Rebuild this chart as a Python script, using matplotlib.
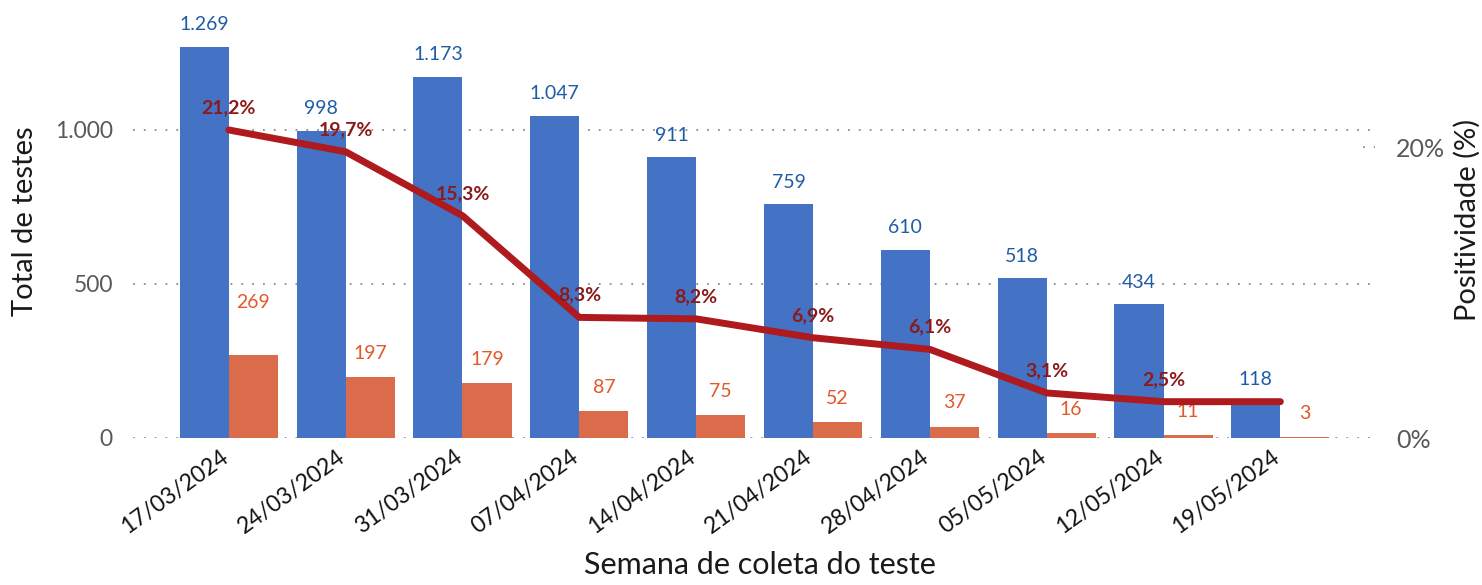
import numpy as np
import matplotlib
matplotlib.use("Agg")
import matplotlib.pyplot as plt
import matplotlib.transforms as mtransforms
from matplotlib.ticker import FuncFormatter

plt.rcParams['font.family'] = ['Lato', 'DejaVu Sans']

# Data
semanas = ['17/03/2024', '24/03/2024', '31/03/2024', '07/04/2024', '14/04/2024',
           '21/04/2024', '28/04/2024', '05/05/2024', '12/05/2024', '19/05/2024']
total_testes = [1269, 998, 1173, 1047, 911, 759, 610, 518, 434, 118]
positivos = [269, 197, 179, 87, 75, 52, 37, 16, 11, 3]
positividade = [0.212, 0.197, 0.153, 0.083, 0.082, 0.069, 0.061, 0.031, 0.025, 0.025]
mostrar_rotulo = [True] * 9 + [False]

azul = '#4472C4'
laranja = '#DA6C4B'
vermelho = '#AE1A1D'
cinza = '#595959'

fig = plt.figure(figsize=(14.82, 5.85), dpi=100)
ax = fig.add_axes([133 / 1482, 147 / 585, (1375 - 133) / 1482, 428 / 585])
ax2 = ax.twinx()

x = np.arange(len(semanas))
w = 0.42
ax.bar(x - w / 2, total_testes, w, color=azul, zorder=2)
ax.bar(x + w / 2, positivos, w, color=laranja, zorder=2)

ax.set_xlim(-0.82, 9.81)
ax.set_ylim(0, 428 / 0.308)
ax.set_yticks([0, 500, 1000])
ax.yaxis.set_major_formatter(FuncFormatter(lambda v, p: f'{int(v):,}'.replace(',', '.')))
ax.grid(axis='y', linestyle=(0, (1, 5)), color='#8C8C8C', linewidth=1.3, zorder=0)
ax.tick_params(axis='y', length=0, pad=14.5, labelsize=16.5, labelcolor=cinza)
ax.tick_params(axis='x', length=0, pad=6)
ax.set_xticks(x)
ax.set_xticklabels(semanas, rotation=36, ha='right', rotation_mode='anchor',
                   fontsize=16.5, color='#111111')
shift = mtransforms.ScaledTranslation(-9 / 100, 0, fig.dpi_scale_trans)
for lbl in ax.get_xticklabels():
    lbl.set_transform(lbl.get_transform() + shift)
for s in ax.spines.values():
    s.set_visible(False)
for s in ax2.spines.values():
    s.set_visible(False)

# bar labels
for i in range(len(semanas)):
    ax.annotate(f'{total_testes[i]:,}'.replace(',', '.'), (x[i] - w / 2, total_testes[i]),
                xytext=(0, 16), textcoords='offset points', ha='center', va='center',
                fontsize=14, color='#1F5CA6')
    dy = 17
    if i == 0:
        dy = 38  # this one sits higher in the original
    ax.annotate(str(positivos[i]), (x[i] + w / 2, positivos[i]),
                xytext=(0, dy), textcoords='offset points', ha='center', va='center',
                fontsize=14, color='#E2582A')

# positividade line
ax2.plot(x, positividade, color=vermelho, linewidth=5, solid_capstyle='round', zorder=3)
ax2.set_ylim(0, 428 / 1453)
ax2.set_yticks([0, 0.2])
ax2.yaxis.set_major_formatter(FuncFormatter(lambda v, p: f'{v * 100:.0f}%'))
ax2.tick_params(axis='y', length=0, pad=15, labelsize=18, labelcolor=cinza)
ax2.axhline(0.2, xmin=0.99, xmax=1.0, linestyle=(0, (1, 5)), color='#8C8C8C', linewidth=1.3)
for i in range(len(semanas)):
    if mostrar_rotulo[i]:
        ax2.annotate(f'{positividade[i] * 100:.1f}%'.replace('.', ','), (x[i], positividade[i]),
                     xytext=(0, 16), textcoords='offset points', ha='center', va='center',
                     fontsize=14, fontweight='bold', color='#8B1A1A')

fig.text(25 / 1482, 1 - 221 / 585, 'Total de testes', rotation=90, ha='center', va='center',
         fontsize=21, color='#1a1a1a')
fig.text(1467 / 1482, 1 - 220 / 585, 'Positividade (%)', rotation=90, ha='center', va='center',
         fontsize=21, color='#1a1a1a')
fig.text(760 / 1482, 1 - 565 / 585, 'Semana de coleta do teste', ha='center', va='center',
         fontsize=22, color='#1a1a1a')

fig.savefig('out.png', dpi=100)
